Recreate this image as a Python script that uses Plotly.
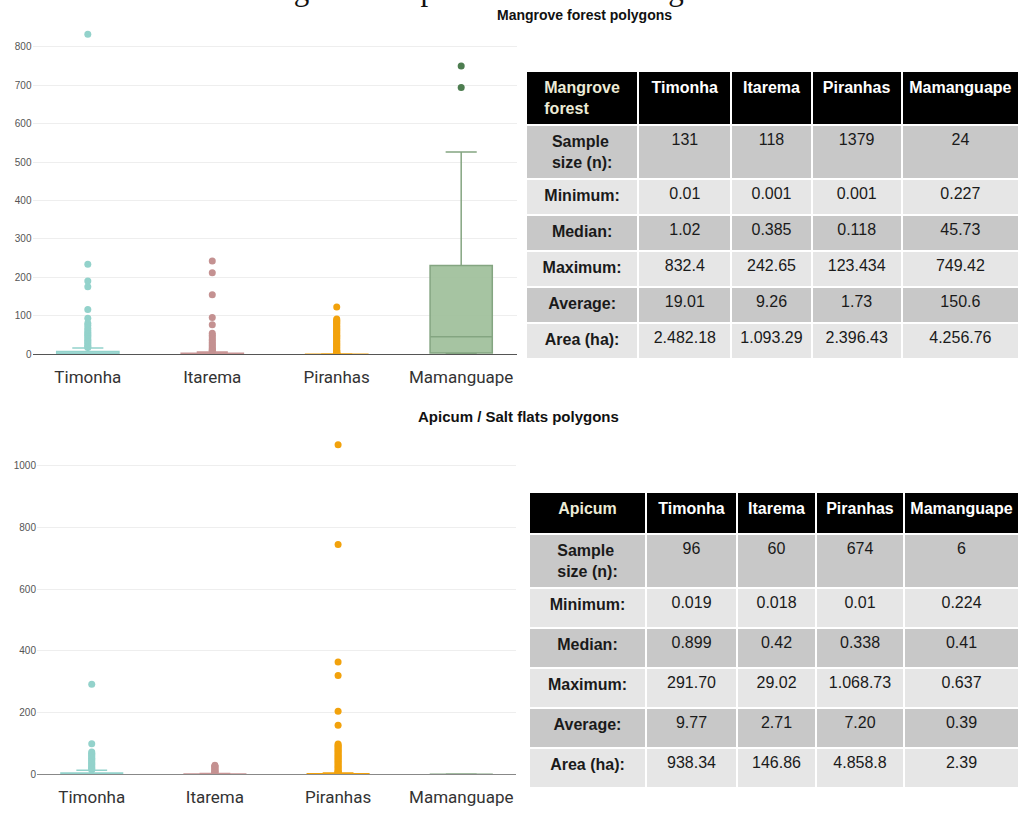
import plotly.graph_objects as go

# ---------------- data ----------------
sites = ["Timonha", "Itarema", "Piranhas", "Mamanguape"]

# Mangrove forest polygons (area, ha) - box statistics
mf_q1 = [0.3, 0.1, 0.04, 3.4]
mf_median = [1.02, 0.385, 0.118, 45.73]
mf_q3 = [7.7, 3.0, 0.55, 231.0]
mf_low = [0.01, 0.001, 0.001, 0.227]
mf_up = [16.3, 6.5, 1.3, 526.0]
mf_out_timonha = [832.4, 234, 191, 176, 117, 94, 81, 75, 68, 62, 57, 53, 49, 45, 40, 36, 32, 28, 24, 20, 18]
mf_out_itarema = [242.65, 212, 155, 96, 77, 55, 50, 45, 40, 36, 31, 27, 23, 19, 15, 12, 10, 8]
mf_out_piranhas = [123.434, 92, 89, 86, 83, 80, 77, 74, 71, 68, 65, 62, 59, 56, 53, 50, 47, 44, 41,
                   38, 35, 32, 29, 26, 23, 20, 17, 14, 11, 9, 7, 5, 4, 3, 2.5, 2, 1.6]
mf_out_mamanguape = [749.42, 694]

# Apicum / salt flats polygons
ap_q1 = [0.3, 0.15, 0.1, 0.3]
ap_median = [0.899, 0.42, 0.338, 0.41]
ap_q3 = [4.5, 1.2, 1.8, 0.5]
ap_low = [0.019, 0.018, 0.01, 0.224]
ap_up = [13.0, 2.7, 4.3, 0.637]
ap_out_timonha = [291.70, 98.7, 72, 68, 64, 60, 56, 52, 48, 44, 40, 36, 32, 28, 24, 20, 17, 15]
ap_out_itarema = [29.02, 27, 25, 22, 19, 16, 13, 10, 8, 6, 4]
ap_out_piranhas = [1068.73, 745, 364, 320, 204, 159, 98, 94, 90, 86, 82, 78, 74, 70, 66, 62, 58, 54,
                   50, 46, 42, 38, 34, 30, 26, 22, 18, 14, 10, 8, 6, 5]
ap_out_mamanguape = []

# Tables
row_labels = ["Sample<br>size (n):", "Minimum:", "Median:", "Maximum:", "Average:", "Area (ha):"]
mf_table = {
    "Timonha": ["131", "0.01", "1.02", "832.4", "19.01", "2.482.18"],
    "Itarema": ["118", "0.001", "0.385", "242.65", "9.26", "1.093.29"],
    "Piranhas": ["1379", "0.001", "0.118", "123.434", "1.73", "2.396.43"],
    "Mamanguape": ["24", "0.227", "45.73", "749.42", "150.6", "4.256.76"],
}
ap_table = {
    "Timonha": ["96", "0.019", "0.899", "291.70", "9.77", "938.34"],
    "Itarema": ["60", "0.018", "0.42", "29.02", "2.71", "146.86"],
    "Piranhas": ["674", "0.01", "0.338", "1.068.73", "7.20", "4.858.8"],
    "Mamanguape": ["6", "0.224", "0.41", "0.637", "0.39", "2.39"],
}

# ---------------- styles ----------------
line_colors = ["#93d2cb", "#c99595", "#f2a20c", "#84a581"]
fill_colors = ["rgba(147,210,203,0.6)", "rgba(201,149,149,0.6)", "rgba(242,162,12,0.6)", "rgba(156,190,152,0.9)"]
point_colors = ["#93d2cb", "#c49191", "#f2a20c", "#4d7d50"]
FONT = "Liberation Sans, Arial, sans-serif"
CAT_FONT = "Roboto, Liberation Sans, Arial, sans-serif"

fig = go.Figure()


def add_boxes(q1, med, q3, lo, up, outs, xa, ya):
    for i, s in enumerate(sites):
        fig.add_trace(go.Box(
            x=[s], q1=[q1[i]], median=[med[i]], q3=[q3[i]],
            lowerfence=[lo[i]], upperfence=[up[i]],
            boxpoints=False, width=0.5, whiskerwidth=0.5,
            line=dict(color=line_colors[i], width=1.5),
            fillcolor=fill_colors[i], showlegend=False,
            xaxis=xa, yaxis=ya, hoverinfo="skip"))
        if outs[i]:
            fig.add_trace(go.Scatter(
                x=[s] * len(outs[i]), y=outs[i], mode="markers",
                marker=dict(color=point_colors[i], size=7),
                showlegend=False, xaxis=xa, yaxis=ya, hoverinfo="skip"))


add_boxes(mf_q1, mf_median, mf_q3, mf_low, mf_up,
          [mf_out_timonha, mf_out_itarema, mf_out_piranhas, mf_out_mamanguape], "x", "y")
add_boxes(ap_q1, ap_median, ap_q3, ap_low, ap_up,
          [ap_out_timonha, ap_out_itarema, ap_out_piranhas, ap_out_mamanguape], "x2", "y2")


def make_table(head0, data, domain_x, domain_y, header_h, cell_h, widths):
    header_vals = ["<b>%s</b>" % head0] + ["<b>%s</b>" % s for s in sites]
    cols = [["<b>%s</b>" % r for r in row_labels]] + [data[s] for s in sites]
    row_fill = ["#c8c8c8", "#e6e6e6", "#c8c8c8", "#e6e6e6", "#c8c8c8", "#e6e6e6"]
    return go.Table(
        domain=dict(x=domain_x, y=domain_y),
        columnwidth=widths,
        header=dict(values=header_vals, fill_color="#000000",
                    line=dict(color="white", width=2),
                    font=dict(family=FONT, size=16, color=["#ecebd6", "white", "white", "white", "white"]),
                    align="center", height=header_h),
        cells=dict(values=cols, fill_color=[row_fill] * 5,
                   line=dict(color="white", width=2),
                   font=dict(family=FONT, size=16, color="#1a1a1a"),
                   align="center", height=cell_h),
    )


W, H = 1019, 819
fig.add_trace(make_table("Mangrove<br>forest", mf_table, [526 / W, 1.0], [1 - 364 / H, 1 - 72 / H],
                         51, 36, [112, 93, 80, 90, 117]))
fig.add_trace(make_table("Apicum", ap_table, [529 / W, 1.0], [1 - 795 / H, 1 - 496 / H],
                         42, 40, [117, 91, 79, 88, 115]))

axis_common = dict(showgrid=False, showline=True, linecolor="#555555", linewidth=1,
                   tickfont=dict(family=CAT_FONT, size=17, color="#333333"), ticks="",
                   ticklabelstandoff=7,
                   categoryorder="array", categoryarray=sites, fixedrange=True)
yaxis_common = dict(showgrid=True, gridcolor="#eeeeee", zeroline=False, showline=False,
                    tickfont=dict(family=FONT, size=10, color="#555555"), ticks="")

fig.update_layout(
    width=W, height=H,
    margin=dict(l=0, r=0, t=0, b=0),
    paper_bgcolor="white", plot_bgcolor="white",
    showlegend=False,
    xaxis=dict(domain=[32.5 / W, 516.5 / W], anchor="y", **axis_common),
    yaxis=dict(domain=[1 - 357 / H, 1 - 27.6 / H], range=[0, 850], dtick=100, anchor="x", **yaxis_common),
    xaxis2=dict(domain=[37 / W, 516 / W], anchor="y2", **axis_common),
    yaxis2=dict(domain=[1 - 780 / H, 1 - 438.2 / H], range=[0, 1100], dtick=200, anchor="x2", **yaxis_common),
    annotations=[
        dict(text="Figure 1 \u2013 Spatialization of mangroves", x=0.5, y=1 - 9 / H,
             xref="paper", yref="paper", xanchor="center", yanchor="bottom", showarrow=False,
             font=dict(family="Liberation Serif, Times New Roman, serif", size=31, color="#111111")),
        dict(text="<b>Mangrove forest polygons</b>", x=584 / W, y=1 - 15 / H,
             xref="paper", yref="paper", xanchor="center", yanchor="middle", showarrow=False,
             font=dict(family=FONT, size=14, color="#111111")),
        dict(text="<b>Apicum / Salt flats polygons</b>", x=518 / W, y=1 - 420 / H,
             xref="paper", yref="paper", xanchor="center", yanchor="middle", showarrow=False,
             font=dict(family=FONT, size=15, color="#111111")),
    ],
)
fig.update_xaxes(linecolor="#888888", selector=dict(anchor="y2"))

fig.write_html("out.html")
